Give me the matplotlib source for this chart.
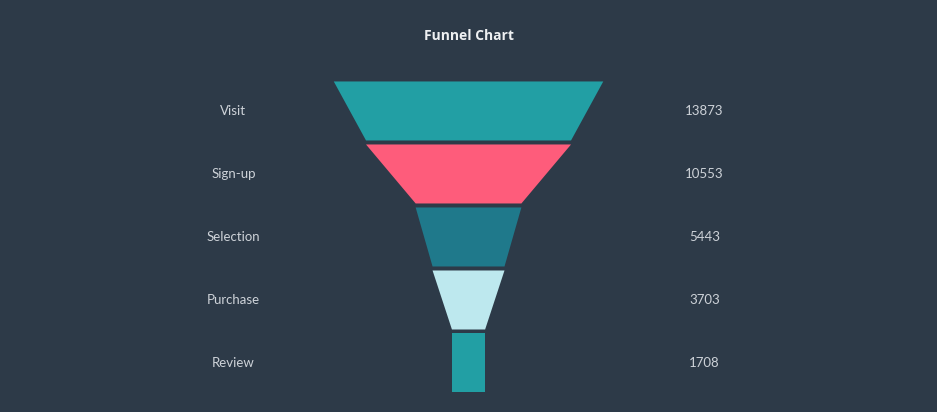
import matplotlib
matplotlib.use("Agg")
import matplotlib.pyplot as plt

# Funnel data
stages = ["Visit", "Sign-up", "Selection", "Purchase", "Review"]
counts = [13873, 10553, 5443, 3703, 1708]
colors = ["#229fa4", "#fe5c7b", "#1f798b", "#bde8ee", "#229fa4"]

bg = "#2d3a48"
text_col = "#cdd2d8"

fig = plt.figure(figsize=(9.3705, 4.1205), dpi=100, facecolor=bg)
ax = fig.add_axes([0, 0, 1, 1])
ax.set_facecolor(bg)
ax.set_xlim(0, 937)
ax.set_ylim(412, 0)
ax.axis("off")

# layout (pixel units)
cx = 468.5
scale = 269.5 / max(counts)
top0 = 81.5
seg_h = 59
gap = 4

for i, (name, val) in enumerate(zip(stages, counts)):
    nxt = counts[i + 1] if i + 1 < len(counts) else val
    w_top = val * scale / 2
    w_bot = nxt * scale / 2
    y0 = top0 + i * (seg_h + gap)
    y1 = y0 + seg_h
    ax.fill([cx - w_top, cx + w_top, cx + w_bot, cx - w_bot],
            [y0, y0, y1, y1], color=colors[i], lw=0)
    ym = (y0 + y1) / 2
    ax.text(233.5, ym, name, ha="center", va="center", color=text_col,
            fontsize=9.5, family=["Lato", "DejaVu Sans"], fontweight="normal")
    ax.text(704.5, ym, str(val), ha="center", va="center", color=text_col,
            fontsize=9.5, family=["Lato", "DejaVu Sans"], fontweight="normal")

ax.text(468.5, 36, "Funnel Chart", ha="center", va="center", color="#eef0f2",
        fontsize=10, fontweight="bold", family=["Open Sans", "DejaVu Sans"])

fig.savefig("out.png", dpi=100, facecolor=bg)
